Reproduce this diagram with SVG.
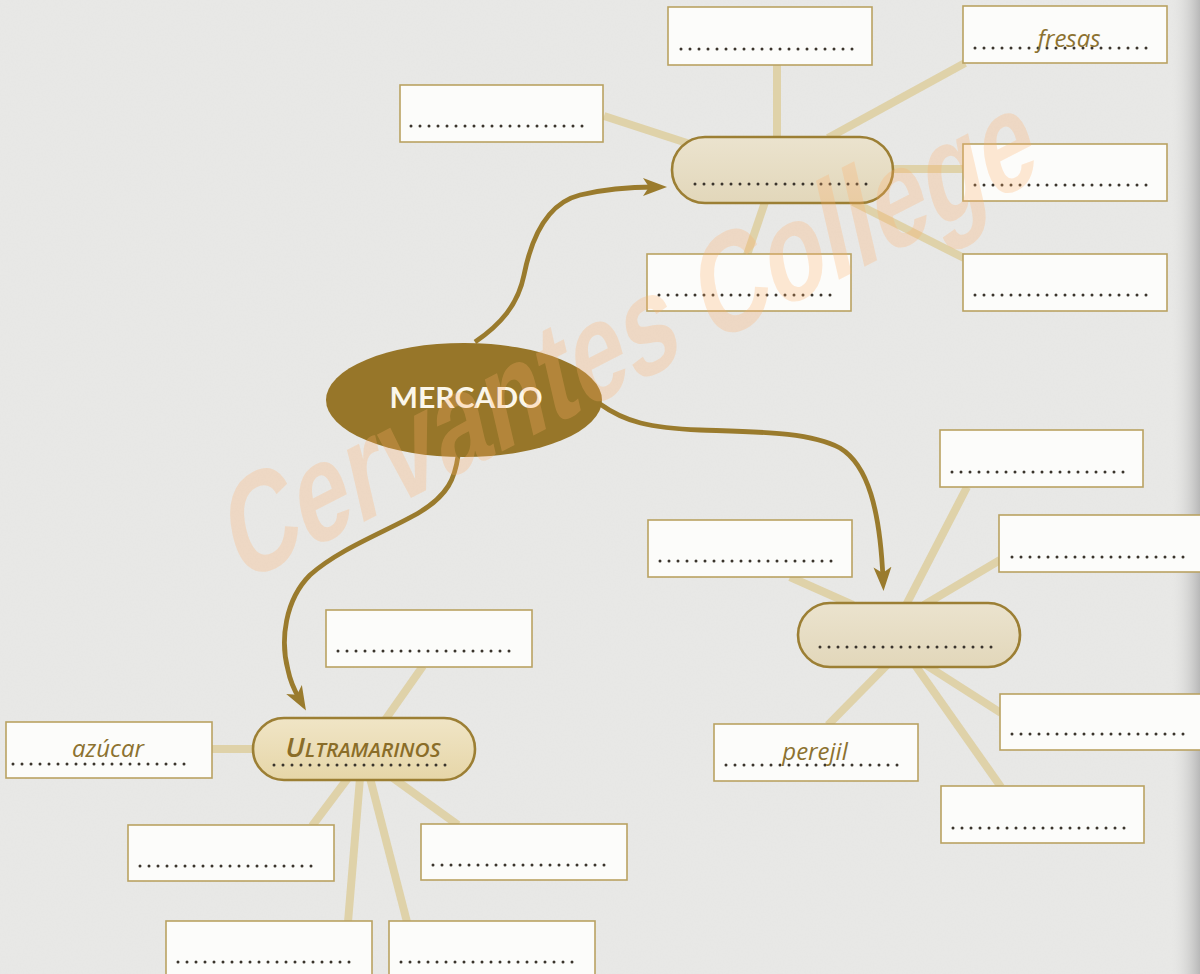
<svg xmlns="http://www.w3.org/2000/svg" width="1200" height="974" viewBox="0 0 1200 974">
  <defs>
    <style>
      .box { fill: #fcfcfa; stroke: #b9a262; stroke-width: 1.6; }
      .hub { fill: url(#hubGrad); stroke: #9c7f34; stroke-width: 2.6; }
      .hubU { fill: url(#hubGradU); stroke: #9c7f34; stroke-width: 2.6; }
      .dots { stroke: #3a342c; stroke-width: 3; stroke-linecap: round; stroke-dasharray: 0 9; fill: none; }
      .spoke { stroke: #dfd2a9; stroke-width: 8; fill: none; }
      .arrow { fill: none; stroke: #9a7b2d; stroke-width: 4.8; marker-end: url(#ah); }
      .hand { font-family: "Open Sans", "Liberation Sans", sans-serif; font-style: italic; font-size: 24px; fill: #8c7230; text-anchor: middle; }
      .title { font-family: Lato, "Open Sans", "Liberation Sans", sans-serif; font-weight: 700; font-size: 28px; fill: #fbf6ea; text-anchor: middle; }
      .ult { font-family: "Open Sans", "Liberation Sans", sans-serif; font-style: italic; font-weight: 600; fill: #8a6d28; }
      .wm { font-family: "Liberation Sans Narrow", "Liberation Sans", sans-serif; font-weight: 700; font-size: 136px; fill: #ffb06a; opacity: 0.27; }
    </style>
    <linearGradient id="hubGrad" x1="0" y1="0" x2="0" y2="1">
      <stop offset="0" stop-color="#ebe3ce"/>
      <stop offset="1" stop-color="#e2d7ba"/>
    </linearGradient>
    <linearGradient id="hubGradU" x1="0" y1="0" x2="0" y2="1">
      <stop offset="0" stop-color="#f0e5c6"/>
      <stop offset="1" stop-color="#e6d6a8"/>
    </linearGradient>
    <linearGradient id="edge" x1="0" y1="0" x2="1" y2="0">
      <stop offset="0" stop-color="#e6e6e4" stop-opacity="0"/>
      <stop offset="1" stop-color="#b8b8b8" stop-opacity="1"/>
    </linearGradient>
    <marker id="ah" markerUnits="userSpaceOnUse" viewBox="0 -10 26 20" markerWidth="26" markerHeight="20" refX="12" refY="0" orient="auto">
      <path d="M0,-9 L24,0 L0,9 L6,0 Z" fill="#9a7b2d"/>
    </marker>
    <filter id="paper" x="0" y="0" width="100%" height="100%">
      <feTurbulence type="fractalNoise" baseFrequency="0.6" numOctaves="2" seed="3" result="n"/>
      <feColorMatrix type="matrix" values="0 0 0 0 0.5  0 0 0 0 0.5  0 0 0 0 0.5  0 0 0 0.06 0"/>
    </filter>
  </defs>

  <!-- paper -->
  <rect x="0" y="0" width="1200" height="974" fill="#e9e9e7"/>
  <rect x="0" y="0" width="1200" height="974" filter="url(#paper)"/>
  <rect x="1170" y="0" width="30" height="974" fill="url(#edge)"/>

  <g id="connectors">
    <!-- top hub spokes -->
    <line class="spoke" x1="777" y1="65" x2="777" y2="138"/>
    <line class="spoke" x1="604" y1="116" x2="690" y2="144"/>
    <line class="spoke" x1="828" y1="138" x2="965" y2="63"/>
    <line class="spoke" x1="890" y1="169" x2="964" y2="169"/>
    <line class="spoke" x1="853" y1="202" x2="964" y2="258"/>
    <line class="spoke" x1="765" y1="202" x2="747" y2="255"/>
    <!-- lower-right hub spokes -->
    <line class="spoke" x1="967" y1="487" x2="906" y2="605"/>
    <line class="spoke" x1="1000" y1="560" x2="924" y2="605"/>
    <line class="spoke" x1="790" y1="577" x2="853" y2="605"/>
    <line class="spoke" x1="887" y1="665" x2="828" y2="725"/>
    <line class="spoke" x1="915" y1="665" x2="1001" y2="787"/>
    <line class="spoke" x1="926" y1="665" x2="1001" y2="713"/>
    <!-- ultramarinos spokes -->
    <line class="spoke" x1="423" y1="666" x2="385" y2="720"/>
    <line class="spoke" x1="211" y1="749" x2="256" y2="749"/>
    <line class="spoke" x1="348" y1="778" x2="312" y2="826"/>
    <line class="spoke" x1="360" y1="778" x2="348" y2="922"/>
    <line class="spoke" x1="370" y1="778" x2="407" y2="922"/>
    <line class="spoke" x1="393" y1="778" x2="458" y2="825"/>
    <!-- arrows -->
    <path class="arrow" d="M 475 342 C 500 325, 518 305, 524 275 C 532 235, 548 203, 580 195 C 605 189, 630 187, 655 187"/>
    <path class="arrow" d="M 600 404 C 625 422, 650 428, 700 430 C 760 432, 810 432, 840 448 C 868 465, 880 510, 883 579"/>
    <path class="arrow" d="M 458 456 C 455 478, 448 495, 420 512 C 390 530, 340 548, 310 575 C 285 600, 280 640, 288 670 C 291 685, 296 693, 300 700"/>
  </g>

  <g id="mercado">
    <ellipse cx="464" cy="400" rx="138" ry="57" fill="#977629"/>
    <text class="title" x="466" y="408" textLength="153" lengthAdjust="spacingAndGlyphs">MERCADO</text>
  </g>

  <!-- top group -->
  <g id="hub-top">
    <rect class="hub" x="672" y="137" width="221" height="66" rx="33"/>
    <line class="dots" x1="695" y1="184" x2="875" y2="184"/>
  </g>
  <g id="box-t1">
    <rect class="box" x="668" y="7" width="204" height="58"/>
    <line class="dots" x1="681" y1="49" x2="861" y2="49"/>
  </g>
  <g id="box-fresas">
    <rect class="box" x="963" y="6" width="204" height="57"/>
    <line class="dots" x1="975" y1="48" x2="1155" y2="48"/>
    <text class="hand" x="1069" y="47">fresas</text>
  </g>
  <g id="box-t3">
    <rect class="box" x="400" y="85" width="203" height="57"/>
    <line class="dots" x1="411" y1="126" x2="591" y2="126"/>
  </g>
  <g id="box-t4">
    <rect class="box" x="963" y="144" width="204" height="57"/>
    <line class="dots" x1="975" y1="185" x2="1155" y2="185"/>
  </g>
  <g id="box-t5">
    <rect class="box" x="647" y="254" width="204" height="57"/>
    <line class="dots" x1="659" y1="295" x2="839" y2="295"/>
  </g>
  <g id="box-t6">
    <rect class="box" x="963" y="254" width="204" height="57"/>
    <line class="dots" x1="975" y1="295" x2="1155" y2="295"/>
  </g>

  <!-- lower-right group -->
  <g id="hub-right">
    <rect class="hub" x="798" y="603" width="222" height="64" rx="32"/>
    <line class="dots" x1="820" y1="647" x2="1000" y2="647"/>
  </g>
  <g id="box-r1">
    <rect class="box" x="940" y="430" width="203" height="57"/>
    <line class="dots" x1="952" y1="472" x2="1132" y2="472"/>
  </g>
  <g id="box-r2">
    <rect class="box" x="999" y="515" width="210" height="57"/>
    <line class="dots" x1="1012" y1="557" x2="1192" y2="557"/>
  </g>
  <g id="box-r3">
    <rect class="box" x="648" y="520" width="204" height="57"/>
    <line class="dots" x1="660" y1="561" x2="840" y2="561"/>
  </g>
  <g id="box-r4">
    <rect class="box" x="1000" y="694" width="210" height="56"/>
    <line class="dots" x1="1012" y1="734" x2="1192" y2="734"/>
  </g>
  <g id="box-perejil">
    <rect class="box" x="714" y="724" width="204" height="57"/>
    <line class="dots" x1="726" y1="765" x2="906" y2="765"/>
    <text class="hand" x="815" y="760">perejil</text>
  </g>
  <g id="box-r6">
    <rect class="box" x="941" y="786" width="203" height="57"/>
    <line class="dots" x1="953" y1="828" x2="1133" y2="828"/>
  </g>

  <!-- ultramarinos group -->
  <g id="hub-ultramarinos">
    <rect class="hubU" x="253" y="718" width="222" height="62" rx="31"/>
    <text class="ult" x="363" y="757" text-anchor="middle" textLength="155" lengthAdjust="spacingAndGlyphs"><tspan font-size="27">U</tspan><tspan font-size="20">LTRAMARINOS</tspan></text>
    <line class="dots" x1="274" y1="765" x2="454" y2="765"/>
  </g>
  <g id="box-u1">
    <rect class="box" x="326" y="610" width="206" height="57"/>
    <line class="dots" x1="338" y1="651" x2="518" y2="651"/>
  </g>
  <g id="box-azucar">
    <rect class="box" x="6" y="722" width="206" height="56"/>
    <line class="dots" x1="13" y1="764" x2="193" y2="764"/>
    <text class="hand" x="108" y="757">azúcar</text>
  </g>
  <g id="box-u2">
    <rect class="box" x="128" y="825" width="206" height="56"/>
    <line class="dots" x1="140" y1="866" x2="320" y2="866"/>
  </g>
  <g id="box-u4">
    <rect class="box" x="421" y="824" width="206" height="56"/>
    <line class="dots" x1="433" y1="865" x2="613" y2="865"/>
  </g>
  <g id="box-u3">
    <rect class="box" x="166" y="921" width="206" height="60"/>
    <line class="dots" x1="178" y1="962" x2="358" y2="962"/>
  </g>
  <g id="box-u5">
    <rect class="box" x="389" y="921" width="206" height="60"/>
    <line class="dots" x1="401" y1="962" x2="581" y2="962"/>
  </g>

  <!-- watermark -->
  <g id="watermark">
    <text class="wm" transform="translate(240,585) rotate(-27) skewX(-14)" textLength="900" lengthAdjust="spacingAndGlyphs">Cervantes College</text>
  </g>
</svg>
